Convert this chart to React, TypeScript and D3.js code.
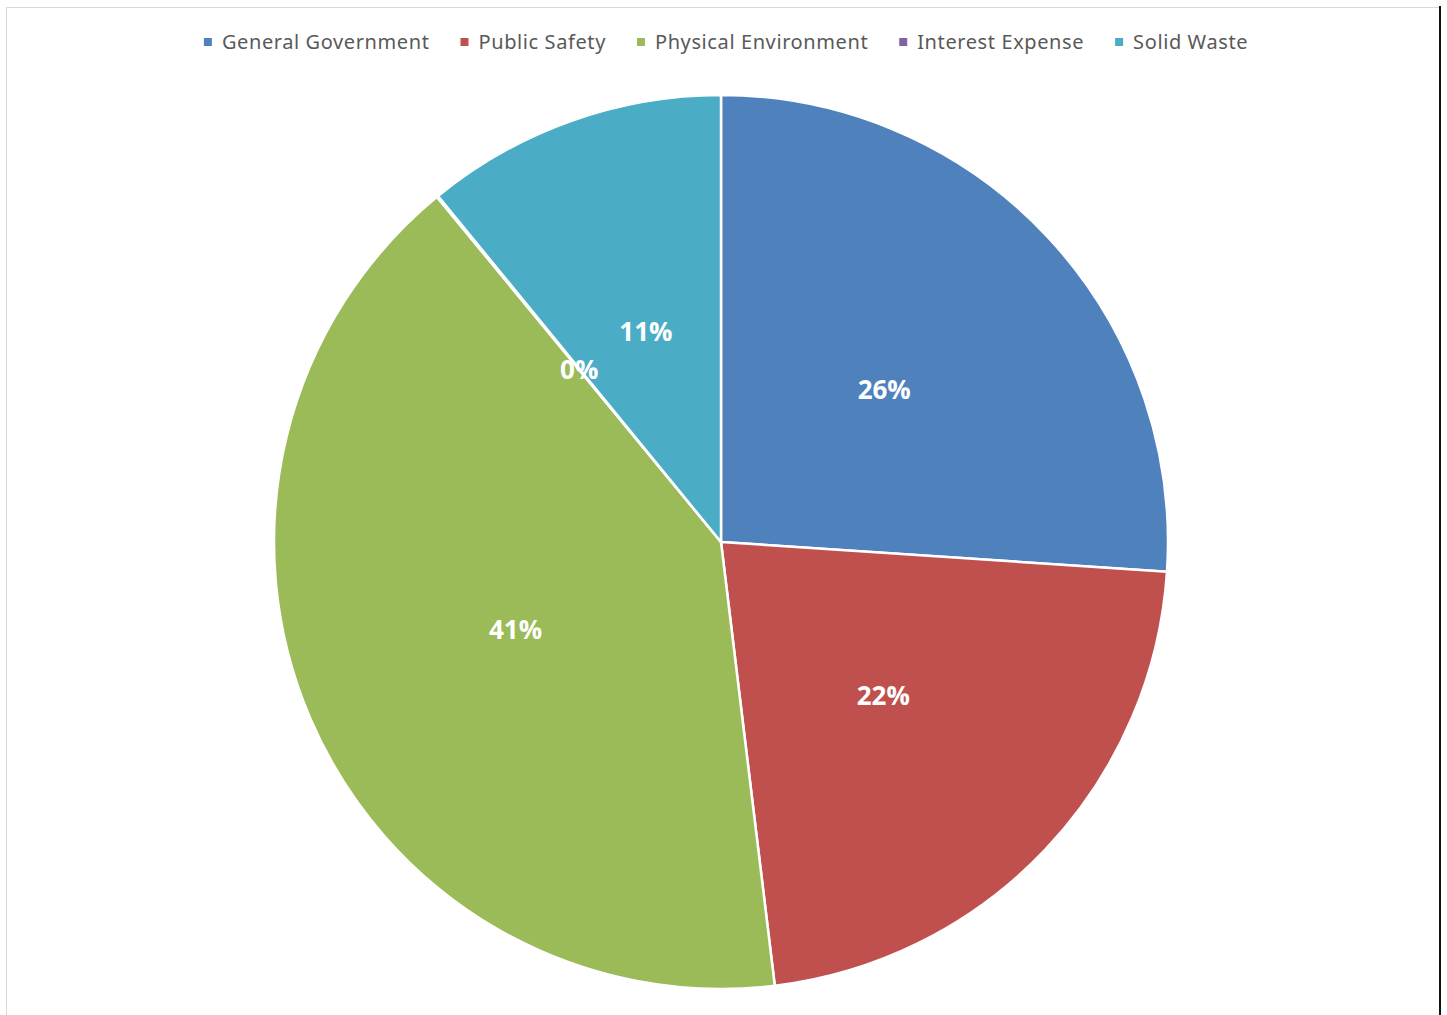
import React, {useEffect, useRef} from "react"
import * as d3 from "d3"

const categories = ["General Government", "Public Safety", "Physical Environment", "Interest Expense", "Solid Waste"]
const shares = [26.06, 22.02, 40.96, 0.05, 10.91]
const labels = ["26%", "22%", "41%", "0%", "11%"]
const colors = ["#4F81BD", "#C0504D", "#9BBB59", "#8064A2", "#4BACC6"]

const W = 1447
const H = 1015
const cx = 721
const cy = 542
const radius = 447

const App = () => {
    const ref = useRef<SVGSVGElement>(null)

    useEffect(() => {
        const svg = d3.select(ref.current)
        svg.selectAll("*").remove()

        // frame
        svg.append("rect")
            .attr("x", 6.5).attr("y", 7.5)
            .attr("width", 1433).attr("height", 1030)
            .attr("fill", "#fff")
            .attr("stroke", "#d9d9d9")
        svg.append("line")
            .attr("x1", 1440).attr("x2", 1440)
            .attr("y1", 6).attr("y2", H)
            .attr("stroke", "#111").attr("stroke-width", 2)

        const pie = d3.pie<number>().sort(null).value(d => d)
        const arcs = pie(shares)
        const arc = d3.arc<d3.PieArcDatum<number>>().innerRadius(0).outerRadius(radius)

        const g = svg.append("g").attr("transform", `translate(${cx},${cy})`)
        g.selectAll("path")
            .data(arcs)
            .join("path")
            .attr("d", arc)
            .attr("fill", (_, i) => colors[i])
            .attr("stroke", "#fff")
            .attr("stroke-width", 2.5)
            .attr("stroke-linejoin", "round")

        g.selectAll("text")
            .data(arcs)
            .join("text")
            .attr("transform", d => `translate(${arc.centroid(d)})`)
            .attr("text-anchor", "middle")
            .attr("dy", "0.36em")
            .attr("fill", "#fff")
            .attr("font-family", "'Open Sans', sans-serif")
            .attr("font-weight", "bold")
            .attr("font-size", 26)
            .text((_, i) => labels[i])

        // legend, centered across the top
        const legend = svg.append("g")
        const items = legend.selectAll("g")
            .data(categories)
            .join("g")
        items.append("rect")
            .attr("width", 8).attr("height", 8)
            .attr("y", -4)
            .attr("fill", (_, i) => colors[i])
        items.append("text")
            .attr("x", 18)
            .attr("dy", "0.35em")
            .attr("fill", "#595959")
            .attr("font-family", "'Noto Sans', sans-serif")
            .attr("font-size", 20)
            .attr("letter-spacing", 0.6)
            .text(d => d)

        let x = 0
        items.each(function () {
            const t = d3.select(this).select("text").node() as SVGTextElement
            d3.select(this).attr("transform", `translate(${x},0)`)
            x += 18 + t.getComputedTextLength() + 31
        })
        const total = x - 31
        legend.attr("transform", `translate(${726 - total / 2},42)`)
    }, [])

    return (
        <svg ref={ref} width={W} height={H}
             style={{position: "absolute", left: 0, top: 0, background: "#fff"}}/>
    )
}

export default App
